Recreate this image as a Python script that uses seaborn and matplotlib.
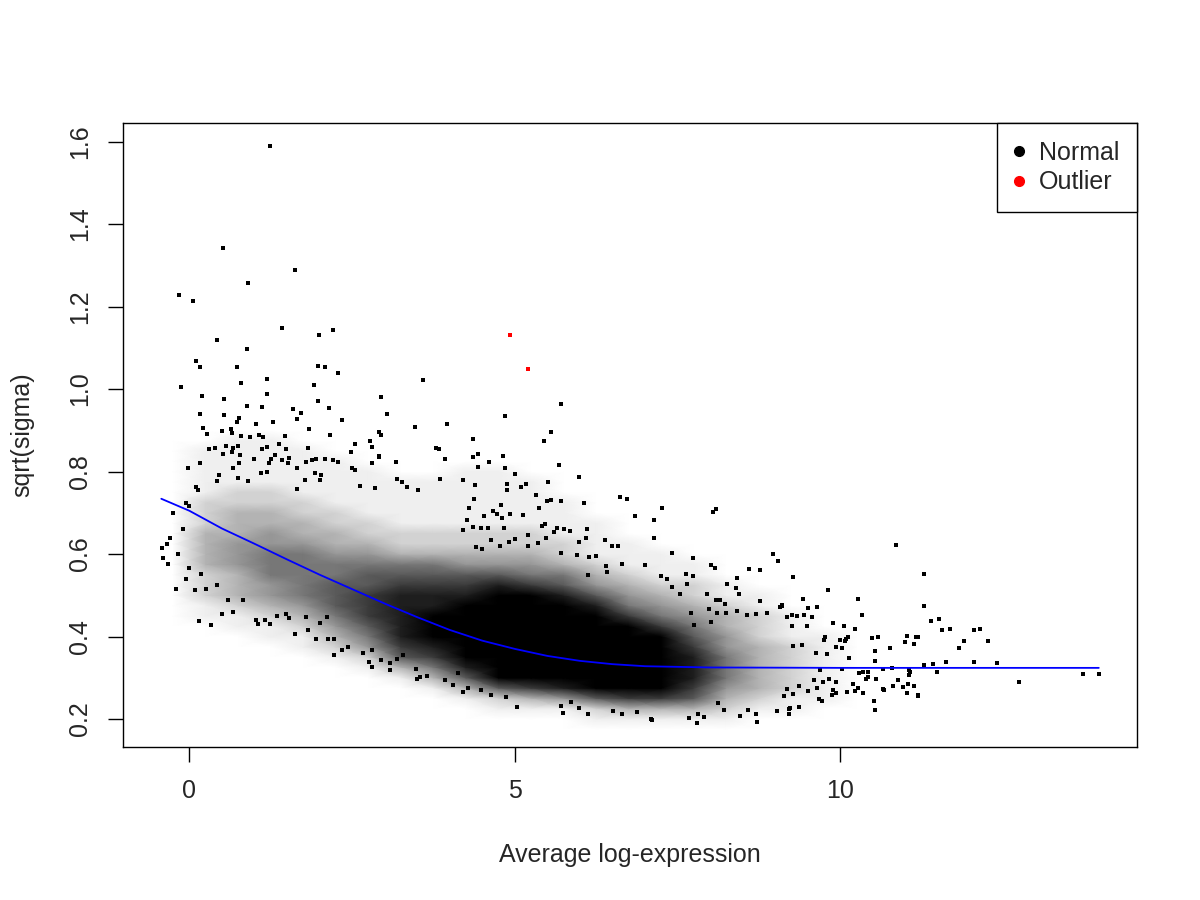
import numpy as np
import pandas as pd
import seaborn as sns
import matplotlib.pyplot as plt
from matplotlib.colors import LinearSegmentedColormap
from matplotlib.lines import Line2D

# Trend (blue line)
trend_x = [-0.43, 0.0, 0.5, 1.0, 1.5, 2.0, 2.5, 3.0, 3.5, 4.0, 4.5, 5.0, 5.5,
           6.0, 6.5, 7.0, 8.0, 10.0, 12.0, 13.97]
trend_y = [0.734, 0.705, 0.662, 0.625, 0.587, 0.550, 0.515, 0.480, 0.447, 0.416,
           0.390, 0.370, 0.353, 0.341, 0.333, 0.328, 0.325, 0.324, 0.324, 0.324]

# Outliers (red)
outlier_x = [4.92, 5.21]
outlier_y = [1.131, 1.049]

# Dense part of the cloud: how much of each cell is covered with dots (0-9),
# one string per x centre, going up from y=0.175 in steps of 0.025
cover_x = [-0.25, 0.25, 0.75, 1.25, 1.75, 2.25, 2.75, 3.25, 3.75, 4.25, 4.75,
           5.25, 5.75, 6.25, 6.75, 7.25, 7.75, 8.25, 8.75, 9.25, 9.75, 10.25]
cover_y = [0.175, 0.200, 0.225, 0.250, 0.275, 0.300, 0.325, 0.350, 0.375, 0.400,
           0.425, 0.450, 0.475, 0.500, 0.525, 0.550, 0.575, 0.600, 0.625, 0.650,
           0.675, 0.700, 0.725, 0.750, 0.775, 0.800, 0.825, 0.850, 0.875, 0.900]
cover_cols = [
    "000000000000000000000000000000",
    "000000000001122233332221111100",
    "000000000011233344433322111110",
    "000000000112344555443322111110",
    "000000001123455555433221111100",
    "000000012345666554332211111000",
    "000000124567776654322111110000",
    "000001367888887653221111100000",
    "000013578999887653221111100000",
    "000136899999987643221111110000",
    "001269999999998643221111110000",
    "001379999999997543221111100000",
    "001489999999986532211110000000",
    "012699999999864321111000000000",
    "013799999997543211100000000000",
    "013799999975432111000000000000",
    "013678887654322110000000000000",
    "012345554433211000000000000000",
    "001233333222110000000000000000",
    "001122222111000000000000000000",
    "000111111100000000000000000000",
    "000000000000000000000000000000",
]

# Sparse dots around the cloud
dots_top = [(1.24, 1.590), (0.51, 1.342), (1.63, 1.289), (0.90, 1.257), (-0.16, 1.228),
            (0.05, 1.213), (1.43, 1.148), (1.99, 1.131), (2.21, 1.143), (0.43, 1.119),
            (0.88, 1.097), (0.10, 1.068), (0.17, 1.053), (0.74, 1.053), (1.97, 1.057),
            (2.08, 1.053), (2.29, 1.038), (3.59, 1.021), (1.19, 1.024), (0.79, 1.014),
            (-0.12, 1.005), (1.92, 1.010), (0.20, 0.983), (0.54, 0.976), (1.20, 0.988),
            (2.95, 0.980), (1.97, 0.970), (0.88, 0.958), (1.11, 0.956), (1.60, 0.951),
            (1.71, 0.943), (2.14, 0.955), (0.16, 0.940), (0.54, 0.938), (0.76, 0.930),
            (3.03, 0.940), (2.34, 0.925), (1.28, 0.921), (1.65, 0.927), (0.73, 0.920),
            (5.71, 0.963), (4.85, 0.934), (5.55, 0.896), (5.45, 0.875), (4.35, 0.878)]

dots_left = [(0.21, 0.905), (0.27, 0.890), (0.50, 0.899), (0.64, 0.903), (0.65, 0.893),
             (0.79, 0.887), (0.93, 0.883), (1.07, 0.889), (1.13, 0.884), (1.02, 0.915),
             (1.47, 0.885), (1.38, 0.866), (1.20, 0.859), (1.11, 0.855), (1.84, 0.903),
             (2.16, 0.889), (2.55, 0.867), (2.77, 0.875), (2.81, 0.859), (2.92, 0.897),
             (2.95, 0.889), (2.49, 0.847), (3.47, 0.907), (3.96, 0.915), (3.79, 0.858),
             (3.83, 0.855), (3.92, 0.830), (2.54, 0.804), (2.50, 0.808), (2.92, 0.836),
             (2.80, 0.820), (3.18, 0.824), (1.83, 0.857), (1.49, 0.854), (1.53, 0.832),
             (1.31, 0.841), (1.25, 0.830), (1.43, 0.827), (1.51, 0.820), (1.80, 0.824),
             (1.89, 0.828), (1.95, 0.830), (2.08, 0.830), (2.21, 0.828), (2.29, 0.823),
             (1.65, 0.808), (0.67, 0.857), (0.75, 0.861), (0.56, 0.863), (0.39, 0.857),
             (0.31, 0.854), (0.52, 0.843), (0.65, 0.847), (0.78, 0.841), (0.77, 0.820),
             (1.00, 0.831), (0.17, 0.820), (-0.02, 0.808), (0.67, 0.808), (1.10, 0.797),
             (1.19, 0.800), (1.23, 0.820), (3.19, 0.782), (3.27, 0.774), (3.35, 0.762),
             (3.51, 0.756), (3.85, 0.782), (4.20, 0.780), (2.91, 0.838), (2.62, 0.765),
             (2.86, 0.759), (2.00, 0.780), (2.03, 0.792), (1.93, 0.797), (1.77, 0.780),
             (1.66, 0.757), (0.14, 0.756), (0.11, 0.762), (0.46, 0.792), (0.43, 0.776),
             (0.75, 0.784), (0.90, 0.778), (0.00, 0.717), (-0.05, 0.723),
             (-0.42, 0.614), (-0.35, 0.624), (-0.40, 0.591), (-0.32, 0.577), (-0.21, 0.515),
             (0.15, 0.438), (0.33, 0.428), (0.08, 0.512), (0.00, 0.566), (0.18, 0.552),
             (0.25, 0.516), (0.43, 0.524), (0.50, 0.454), (0.67, 0.460), (0.60, 0.489),
             (0.83, 0.489), (1.03, 0.440), (1.06, 0.431), (1.16, 0.440), (1.24, 0.431),
             (1.34, 0.450), (1.48, 0.454), (1.53, 0.444), (1.62, 0.405), (1.80, 0.448),
             (1.83, 0.416), (1.95, 0.395), (2.00, 0.432), (2.11, 0.448), (2.13, 0.395),
             (2.22, 0.395), (2.22, 0.354), (2.34, 0.367), (2.44, 0.374), (2.80, 0.367),
             (2.67, 0.359), (2.76, 0.339), (2.80, 0.325), (2.95, 0.343), (3.08, 0.335),
             (3.08, 0.320), (3.19, 0.345), (3.28, 0.355), (3.48, 0.322), (3.49, 0.298),
             (3.55, 0.302), (3.65, 0.304), (3.92, 0.295), (4.05, 0.283), (4.13, 0.311),
             (-0.30, 0.640), (-0.18, 0.600), (-0.10, 0.660), (-0.25, 0.700), (-0.05, 0.540)]

dots_mid = [(4.44, 0.842), (4.36, 0.836), (4.82, 0.838), (4.61, 0.822), (4.44, 0.810),
            (4.85, 0.808), (5.68, 0.817), (5.01, 0.794), (4.21, 0.779), (4.39, 0.768),
            (4.88, 0.770), (4.88, 0.755), (5.09, 0.763), (5.17, 0.769), (5.51, 0.774),
            (5.98, 0.786), (5.32, 0.744), (4.37, 0.733), (5.49, 0.728), (5.55, 0.730),
            (5.71, 0.728), (6.07, 0.724), (6.62, 0.739), (6.72, 0.733), (4.79, 0.720),
            (4.29, 0.712), (5.37, 0.711), (7.26, 0.711), (8.04, 0.702), (8.09, 0.710),
            (4.67, 0.705), (4.72, 0.698), (4.93, 0.698), (5.12, 0.694), (4.53, 0.692),
            (4.26, 0.683), (4.81, 0.687), (6.84, 0.692), (7.14, 0.682), (4.21, 0.659),
            (4.35, 0.666), (4.48, 0.662), (4.59, 0.662), (4.84, 0.664), (5.20, 0.646),
            (5.47, 0.672), (5.42, 0.667), (5.48, 0.639), (5.65, 0.662), (5.60, 0.653),
            (5.76, 0.660), (5.85, 0.656), (6.11, 0.660), (6.10, 0.639), (7.14, 0.639),
            (6.38, 0.633), (6.49, 0.619), (6.58, 0.619), (5.99, 0.628), (4.41, 0.618),
            (4.50, 0.611), (4.64, 0.635), (4.77, 0.620), (4.91, 0.630), (5.01, 0.636),
            (5.20, 0.620), (5.36, 0.626), (5.71, 0.603), (5.95, 0.597), (6.14, 0.592),
            (6.25, 0.596), (7.41, 0.603), (7.73, 0.591), (8.01, 0.573), (8.07, 0.566),
            (8.96, 0.599), (9.04, 0.582), (8.60, 0.563), (8.76, 0.561), (9.28, 0.545),
            (8.42, 0.543), (8.26, 0.528), (8.40, 0.518), (8.45, 0.503), (7.73, 0.547),
            (7.95, 0.502), (7.63, 0.552), (7.65, 0.527), (6.65, 0.575), (7.00, 0.574),
            (6.40, 0.570), (6.42, 0.557), (6.12, 0.549), (7.25, 0.547), (7.34, 0.540),
            (7.41, 0.519), (7.53, 0.502), (8.09, 0.489), (8.15, 0.489), (8.23, 0.480),
            (8.76, 0.487), (9.07, 0.472), (9.11, 0.477), (9.34, 0.450), (9.25, 0.451),
            (8.70, 0.454), (8.88, 0.458), (8.42, 0.463), (8.57, 0.452), (8.25, 0.456),
            (8.11, 0.456), (7.99, 0.466), (8.01, 0.436), (7.70, 0.456), (7.75, 0.428)]

dots_low = [(5.04, 0.230), (5.74, 0.214), (6.12, 0.211), (5.71, 0.231), (7.11, 0.198),
            (7.09, 0.201), (7.80, 0.190), (7.68, 0.203), (7.82, 0.212), (7.90, 0.206),
            (8.46, 0.208), (8.72, 0.193), (8.58, 0.223), (8.71, 0.213), (9.21, 0.211),
            (9.21, 0.224), (9.03, 0.220), (8.21, 0.223), (8.12, 0.240), (6.64, 0.211),
            (6.51, 0.220), (6.88, 0.218), (4.64, 0.258), (4.86, 0.254), (4.21, 0.266),
            (4.28, 0.274), (4.48, 0.270), (5.86, 0.242), (5.99, 0.226)]

dots_right = [(10.85, 0.621), (11.29, 0.552), (9.81, 0.513), (9.42, 0.491), (10.27, 0.491),
              (9.11, 0.474), (9.50, 0.468), (9.64, 0.471), (11.28, 0.473), (10.34, 0.451),
              (9.18, 0.448), (9.44, 0.451), (9.56, 0.448), (11.39, 0.438), (11.52, 0.442),
              (9.89, 0.432), (10.06, 0.426), (9.26, 0.426), (9.49, 0.426), (10.22, 0.418),
              (11.56, 0.415), (11.68, 0.419), (12.05, 0.417), (12.14, 0.419), (9.76, 0.400),
              (9.75, 0.392), (10.12, 0.400), (10.08, 0.393), (10.49, 0.397), (10.58, 0.398),
              (11.03, 0.401), (11.16, 0.399), (11.19, 0.400), (10.99, 0.387), (11.13, 0.381),
              (11.90, 0.388), (12.27, 0.388), (9.99, 0.391), (10.07, 0.388), (9.41, 0.379),
              (9.28, 0.377), (9.94, 0.374), (10.03, 0.371), (10.54, 0.366), (10.77, 0.371),
              (11.83, 0.371), (9.62, 0.359), (9.79, 0.358), (10.14, 0.349), (10.54, 0.341),
              (11.62, 0.339), (12.05, 0.339), (12.40, 0.337), (11.28, 0.330), (11.42, 0.333),
              (10.79, 0.324), (10.65, 0.321), (11.05, 0.320), (11.07, 0.315), (11.49, 0.315),
              (10.28, 0.312), (10.35, 0.313), (10.42, 0.313), (13.72, 0.309), (13.97, 0.308),
              (12.75, 0.290), (11.05, 0.306), (10.89, 0.295), (10.55, 0.296), (10.42, 0.301),
              (10.40, 0.297), (10.66, 0.273), (10.67, 0.270), (10.81, 0.281), (10.97, 0.278),
              (11.13, 0.279), (11.04, 0.285), (11.19, 0.258), (11.20, 0.255), (11.02, 0.264),
              (10.51, 0.244), (10.53, 0.221), (10.20, 0.285), (10.23, 0.269), (10.27, 0.274),
              (10.35, 0.262), (10.11, 0.266), (9.87, 0.258), (9.93, 0.264), (9.88, 0.271),
              (9.72, 0.243), (9.67, 0.249), (9.64, 0.274), (9.51, 0.269), (9.37, 0.230),
              (9.22, 0.226), (9.13, 0.256), (9.28, 0.260), (9.18, 0.272), (9.36, 0.280),
              (9.59, 0.295), (9.73, 0.289), (9.82, 0.296), (9.93, 0.290), (9.69, 0.319),
              (10.03, 0.322)]

dots = pd.DataFrame(dots_top + dots_left + dots_mid + dots_low + dots_right,
                    columns=["Amean", "sqrt_sigma"])
outliers = pd.DataFrame({"Amean": outlier_x, "sqrt_sigma": outlier_y})
trend = pd.DataFrame({"Amean": trend_x, "sqrt_sigma": trend_y})

cover = np.array([[int(c) for c in col] for col in cover_cols]).T
gx, gy = np.meshgrid(cover_x, cover_y)

sns.set_style("white")
plt.rcParams['font.family'] = ['Liberation Sans', 'DejaVu Sans']

fig = plt.figure(figsize=(12, 9), dpi=100)
ax = fig.add_axes([0.1022, 0.1703, 0.8453, 0.6930])

# dense cloud as coverage shading (light speckle stays pale)
cmap = LinearSegmentedColormap.from_list(
    "cover", [(0.0, "white"), (1 / 9, "#efefef"), (1.0, "black")])
ax.pcolormesh(gx, gy, cover, shading="gouraud", cmap=cmap, vmin=0, vmax=9, zorder=1)

sns.scatterplot(data=dots, x="Amean", y="sqrt_sigma", color="black", s=5,
                linewidth=0, marker="s", ax=ax, zorder=2)
sns.scatterplot(data=outliers, x="Amean", y="sqrt_sigma", color="#FF0000", s=6,
                linewidth=0, marker="s", ax=ax, zorder=3)
sns.lineplot(data=trend, x="Amean", y="sqrt_sigma", color="#0000FF", linewidth=1.3,
             ax=ax, zorder=4)

ax.set_xlim(-1.024, 14.557)
ax.set_ylim(0.1328, 1.645)
ax.set_xticks([0, 5, 10])
ax.set_yticks([0.2, 0.4, 0.6, 0.8, 1.0, 1.2, 1.4, 1.6])
ax.set_yticklabels(["0.2", "0.4", "0.6", "0.8", "1.0", "1.2", "1.4", "1.6"])
ax.tick_params(axis="both", direction="out", length=11, width=1, labelsize=18,
               color="black", bottom=True, left=True)
ax.tick_params(axis="x", pad=12)
ax.tick_params(axis="y", pad=11)
plt.setp(ax.get_yticklabels(), rotation=90, va="center")

for side in ax.spines.values():
    side.set_color("black")
    side.set_linewidth(1.0)

ax.set_xlabel("Average log-expression", fontsize=18, labelpad=29)
ax.set_ylabel("sqrt(sigma)", fontsize=18, labelpad=24)

handles = [Line2D([0], [0], marker="o", linestyle="None", markersize=7,
                  markerfacecolor="black", markeredgecolor="black"),
           Line2D([0], [0], marker="o", linestyle="None", markersize=7,
                  markerfacecolor="#FF0000", markeredgecolor="#FF0000")]
leg = ax.legend(handles, ["Normal", "Outlier"], loc="upper right", fontsize=18,
                frameon=True, fancybox=False, edgecolor="black", framealpha=1,
                borderaxespad=0, borderpad=0.7, handlelength=0.4, handletextpad=0.6,
                labelspacing=0.23)
leg.get_frame().set_linewidth(1.0)

plt.savefig("out.png", dpi=100)
